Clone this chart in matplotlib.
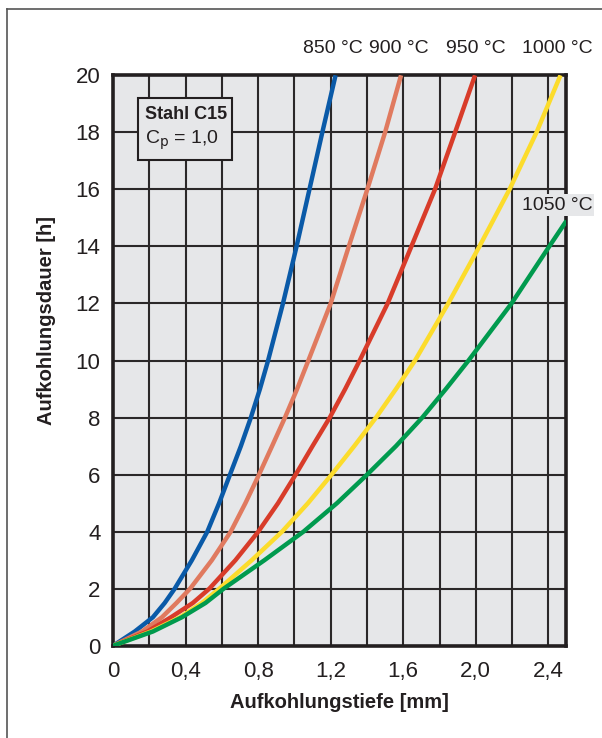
import matplotlib
matplotlib.use("Agg")
import matplotlib.pyplot as plt
from matplotlib.lines import Line2D
from matplotlib.patches import Rectangle

plt.rcParams['font.family'] = ['Liberation Sans', 'DejaVu Sans']

dauer_850 = [0, 0.5, 1, 1.5, 2, 3, 4, 5, 6, 7, 8, 9, 10, 12, 14, 16, 18, 20]
tiefe_850 = [0, 0.12, 0.22, 0.285, 0.34, 0.435, 0.52, 0.585, 0.645, 0.705, 0.76, 0.81, 0.855,
             0.937, 1.012, 1.083, 1.154, 1.227]

dauer_900 = [0, 0.5, 1, 1.5, 2, 3, 4, 5, 6, 7, 8, 9, 10, 12, 14, 16, 18, 20]
tiefe_900 = [0, 0.16, 0.27, 0.35, 0.425, 0.545, 0.649, 0.73, 0.805, 0.877, 0.948, 1.015, 1.077,
             1.2, 1.30, 1.402, 1.5, 1.588]

dauer_950 = [0, 0.5, 1, 1.5, 2, 3, 4, 5, 6, 7, 8, 9, 10, 12, 14, 16, 18, 20]
tiefe_950 = [0, 0.19, 0.32, 0.44, 0.531, 0.675, 0.801, 0.91, 1.007, 1.10, 1.195, 1.28, 1.36,
             1.514, 1.645, 1.775, 1.886, 1.996]

dauer_1000 = [0, 0.5, 1, 1.5, 2, 3, 4, 5, 6, 7, 8, 9, 10, 12, 14, 16, 18, 20]
tiefe_1000 = [0, 0.21, 0.37, 0.49, 0.586, 0.765, 0.932, 1.075, 1.205, 1.33, 1.45, 1.56, 1.665,
              1.848, 2.02, 2.186, 2.335, 2.467]

dauer_1050 = [0, 0.5, 1, 1.5, 2, 3, 4, 5, 6, 7, 8, 9, 10, 12, 14, 14.9]
tiefe_1050 = [0, 0.22, 0.38, 0.51, 0.61, 0.835, 1.05, 1.235, 1.401, 1.56, 1.705, 1.835, 1.96,
              2.197, 2.405, 2.5]

kurven = [
    (tiefe_850, dauer_850, '#0a5aa8'),
    (tiefe_900, dauer_900, '#e07a5f'),
    (tiefe_950, dauer_950, '#d83c2a'),
    (tiefe_1000, dauer_1000, '#fcdc2c'),
    (tiefe_1050, dauer_1050, '#009a4e'),
]

x_ticks = [0, 0.4, 0.8, 1.2, 1.6, 2.0, 2.4]
x_ticklabels = ['0', '0,4', '0,8', '1,2', '1,6', '2,0', '2,4']
y_ticks = [0, 2, 4, 6, 8, 10, 12, 14, 16, 18, 20]

# Beschriftungen oben (x-Position, Text)
temp_labels = [(1.21, '850 °C'), (1.575, '900 °C'), (2.0, '950 °C'), (2.447, '1000 °C')]

fig = plt.figure(figsize=(6.02, 7.38), dpi=100)
ax = fig.add_axes([0.1877, 0.125, 0.7533, 0.773])
ax.set_facecolor('#e6e7e9')

# Gitter
for gx in [0.2 * i for i in range(1, 13)]:
    ax.axvline(gx, color='#2b2829', lw=1.5, zorder=1)
for gy in y_ticks[1:-1]:
    ax.axhline(gy, color='#2b2829', lw=1.5, zorder=1)

for x, y, c in kurven:
    ax.plot(x, y, color=c, lw=3.2, solid_capstyle='butt', solid_joinstyle='round', zorder=3)

ax.set_xlim(0, 2.5)
ax.set_ylim(0, 20)
ax.set_xticks(x_ticks)
ax.set_xticklabels(x_ticklabels)
ax.set_yticks(y_ticks)
ax.tick_params(length=0, labelsize=16, colors='#231f20')
ax.tick_params(axis='x', pad=11)
ax.tick_params(axis='y', pad=9)
for s in ax.spines.values():
    s.set_linewidth(2.6)
    s.set_color('#231f20')

ax.set_xlabel('Aufkohlungstiefe [mm]', fontsize=14.5, fontweight='bold', labelpad=8, color='#231f20')
ax.set_ylabel('Aufkohlungsdauer [h]', fontsize=14.5, fontweight='bold', color='#231f20')
ax.yaxis.set_label_coords(-0.125, 0.57)

for xp, t in temp_labels:
    ax.text(xp, 20.95, t, ha='center', va='center', fontsize=14, color='#231f20', clip_on=False)

ax.text(2.447, 15.45, '1050 °C', ha='center', va='center', fontsize=14, color='#231f20',
        clip_on=False, zorder=10,
        bbox=dict(facecolor='#e6e7e9', edgecolor='none', pad=1.5))

# Infokasten
ax.add_patch(Rectangle((0.138, 17.02), 0.519, 2.17, facecolor='#e6e7e9', edgecolor='#231f20',
                       lw=1.5, zorder=6))
ax.text(0.175, 18.62, 'Stahl C15', ha='left', va='center', fontsize=13, fontweight='bold',
        color='#231f20', zorder=7)
ax.text(0.175, 17.72, 'C$_\\mathrm{p}$ = 1,0', ha='left', va='center', fontsize=14,
        color='#231f20', zorder=7)

# äußerer Rahmen
fig.add_artist(Line2D([0.0115, 0.0115], [0, 0.9875], transform=fig.transFigure, color='#555555', lw=1.2))
fig.add_artist(Line2D([0.0115, 1.0], [0.9875, 0.9875], transform=fig.transFigure, color='#555555', lw=1.2))

fig.savefig('out.png', dpi=100)
